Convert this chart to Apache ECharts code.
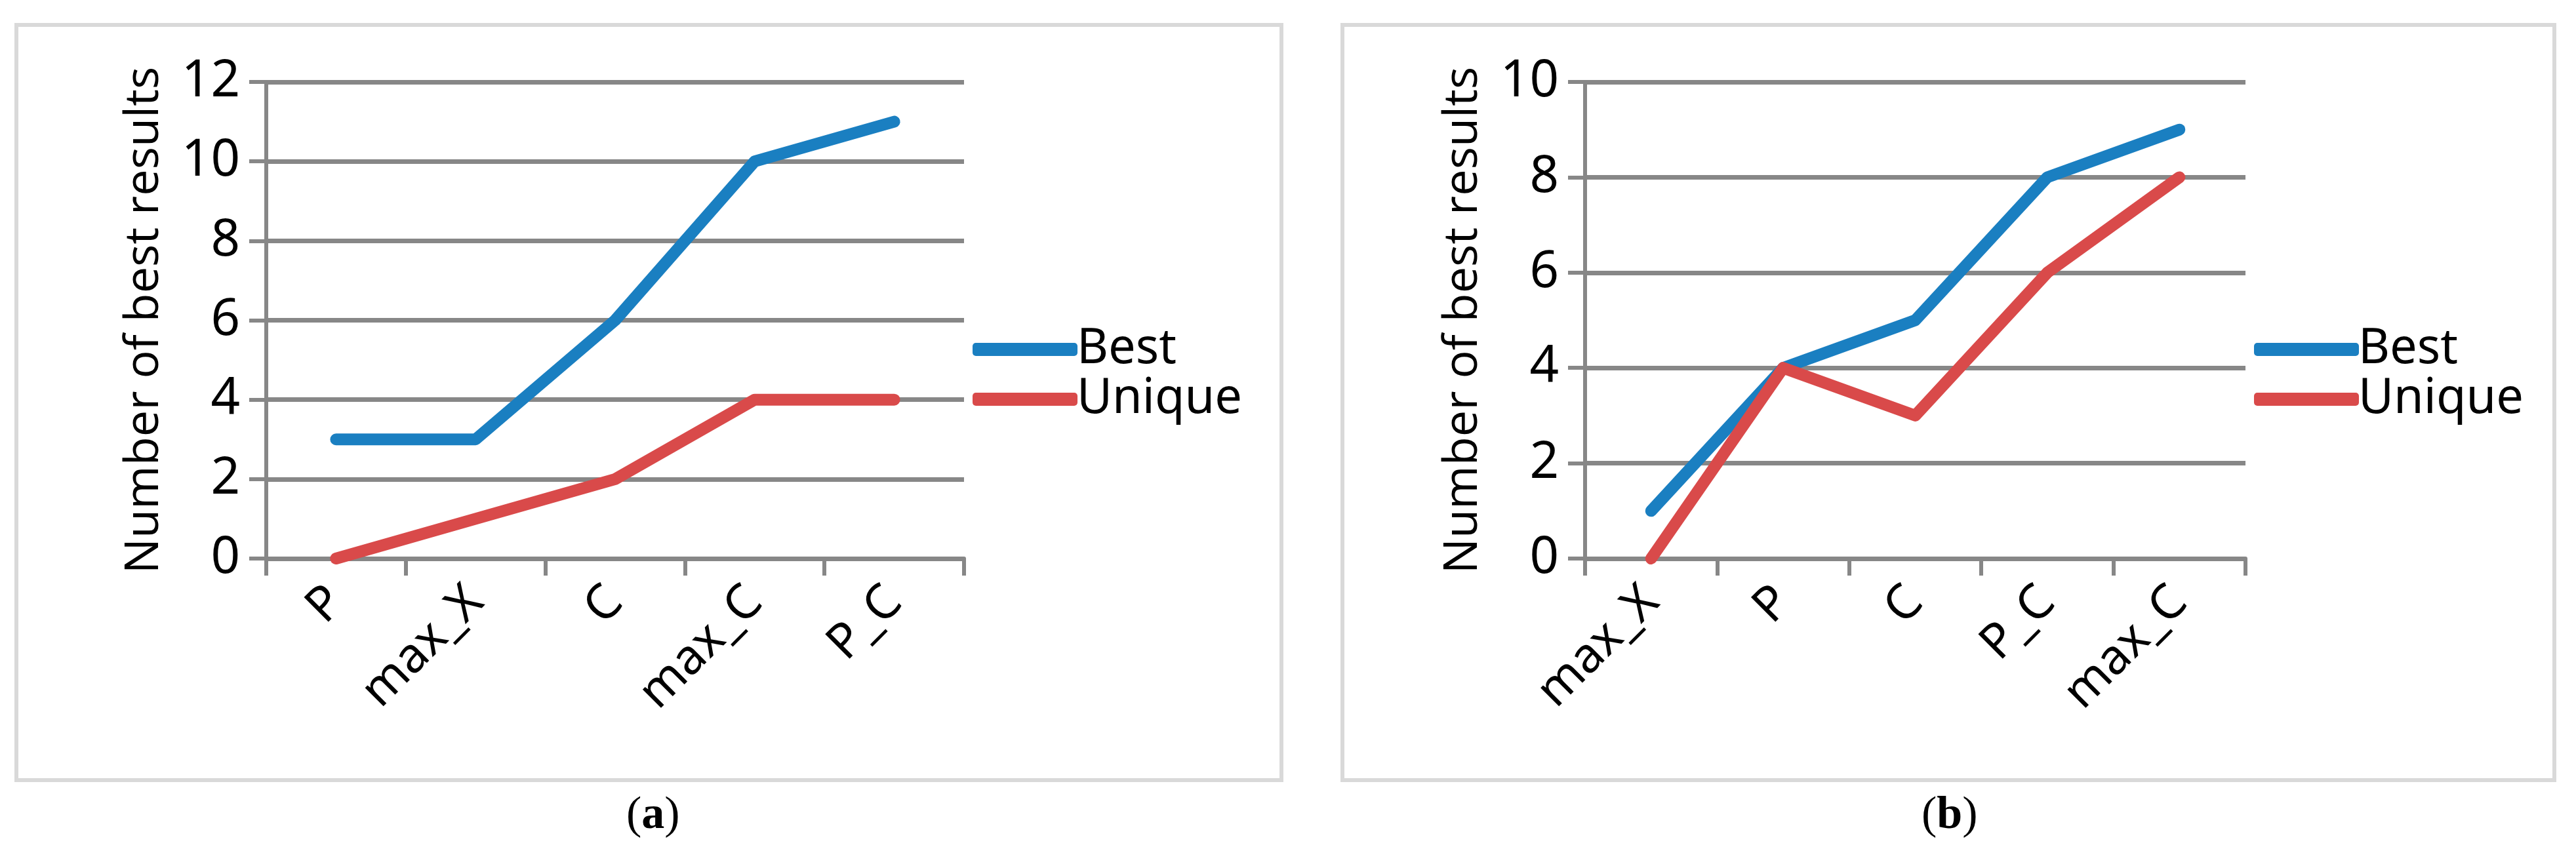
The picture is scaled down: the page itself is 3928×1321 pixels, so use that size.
<!DOCTYPE html>
<html><head><meta charset="utf-8">
<script src="https://cdn.jsdelivr.net/npm/echarts@6/dist/echarts.min.js"></script>
<style>html,body{margin:0;padding:0;background:#fff}#c{width:3928px;height:1321px}</style>
</head><body><div id="c"></div>
<script>
const catsA = ['P','max_X','C','max_C','P_C'];
const bestA = [3,3,6,10,11];
const uniqueA = [0,1,2,4,4];
const catsB = ['max_X','P','C','P_C','max_C'];
const bestB = [1,4,5,8,9];
const uniqueB = [0,4,3,6,8];
const yTicksA = {min:0,max:12,interval:2};
const yTicksB = {min:0,max:10,interval:2};

const BLUE='#1a7fc1', RED='#d94a4a', GRID='#878787';
const FONT='"Liberation Sans Narrow","Noto Sans",sans-serif';
const chart = echarts.init(document.getElementById('c'));
function xAxis(idx, cats){
  return {type:'category',gridIndex:idx,data:cats,boundaryGap:true,
    axisLine:{lineStyle:{color:GRID,width:6}},
    axisTick:{show:true,length:26,lineStyle:{color:GRID,width:6}},
    axisLabel:{rotate:45,fontSize:74,color:'#000',fontFamily:FONT,margin:55}};
}
function yAxis(idx, t){
  return {type:'value',gridIndex:idx,min:t.min,max:t.max,interval:t.interval,
    name:'Number of best results',nameLocation:'middle',nameGap:150,
    nameTextStyle:{fontSize:72,color:'#000',fontFamily:'"Open Sans",sans-serif'},
    axisLine:{show:true,lineStyle:{color:GRID,width:6}},
    axisTick:{show:true,length:26,lineStyle:{color:GRID,width:6}},
    splitLine:{lineStyle:{color:GRID,width:7}},
    axisLabel:{fontSize:78,color:'#000',fontFamily:FONT,margin:40}};
}
function line(name,data,color,idx){
  return {type:'line',name,data,xAxisIndex:idx,yAxisIndex:idx,symbol:'none',
    lineStyle:{color,width:18,cap:'round',join:'round'},itemStyle:{color}};
}
function legend(idx,left){
  return {data:['Best','Unique'].map(n=>({name:n})),orient:'vertical',left,top:490,itemGap:0,
    itemWidth:160,itemHeight:20,icon:'roundRect',
    textStyle:{fontSize:74,color:'#000',fontFamily:FONT,padding:[0,0,0,-6],lineHeight:76}};
}
chart.setOption({
  animation:false,
  grid:[{left:406,top:125,width:1064,height:727},{left:2417,top:125,width:1007,height:727}],
  xAxis:[xAxis(0,catsA),xAxis(1,catsB)],
  yAxis:[yAxis(0,yTicksA),yAxis(1,yTicksB)],
  legend:[legend(0,1478),legend(1,3432)],
  series:[line('Best',bestA,BLUE,0),line('Unique',uniqueA,RED,0),
          line('Best',bestB,BLUE,1),line('Unique',uniqueB,RED,1)],
  graphic:[
    {type:'rect',shape:{x:25,y:38,width:1929,height:1152},style:{fill:'none',stroke:'#d9d9d9',lineWidth:6}},
    {type:'rect',shape:{x:2047,y:38,width:1848,height:1152},style:{fill:'none',stroke:'#d9d9d9',lineWidth:6}},
    {type:'text',left:955,top:1210,style:{text:'({b|a})',font:'70px "Liberation Serif",serif',fill:'#000',
      rich:{b:{fontWeight:'bold',fontSize:70,fontFamily:'"Liberation Serif",serif'}}}},
    {type:'text',left:2930,top:1210,style:{text:'({b|b})',font:'70px "Liberation Serif",serif',fill:'#000',
      rich:{b:{fontWeight:'bold',fontSize:70,fontFamily:'"Liberation Serif",serif'}}}}
  ]
});
</script></body></html>
